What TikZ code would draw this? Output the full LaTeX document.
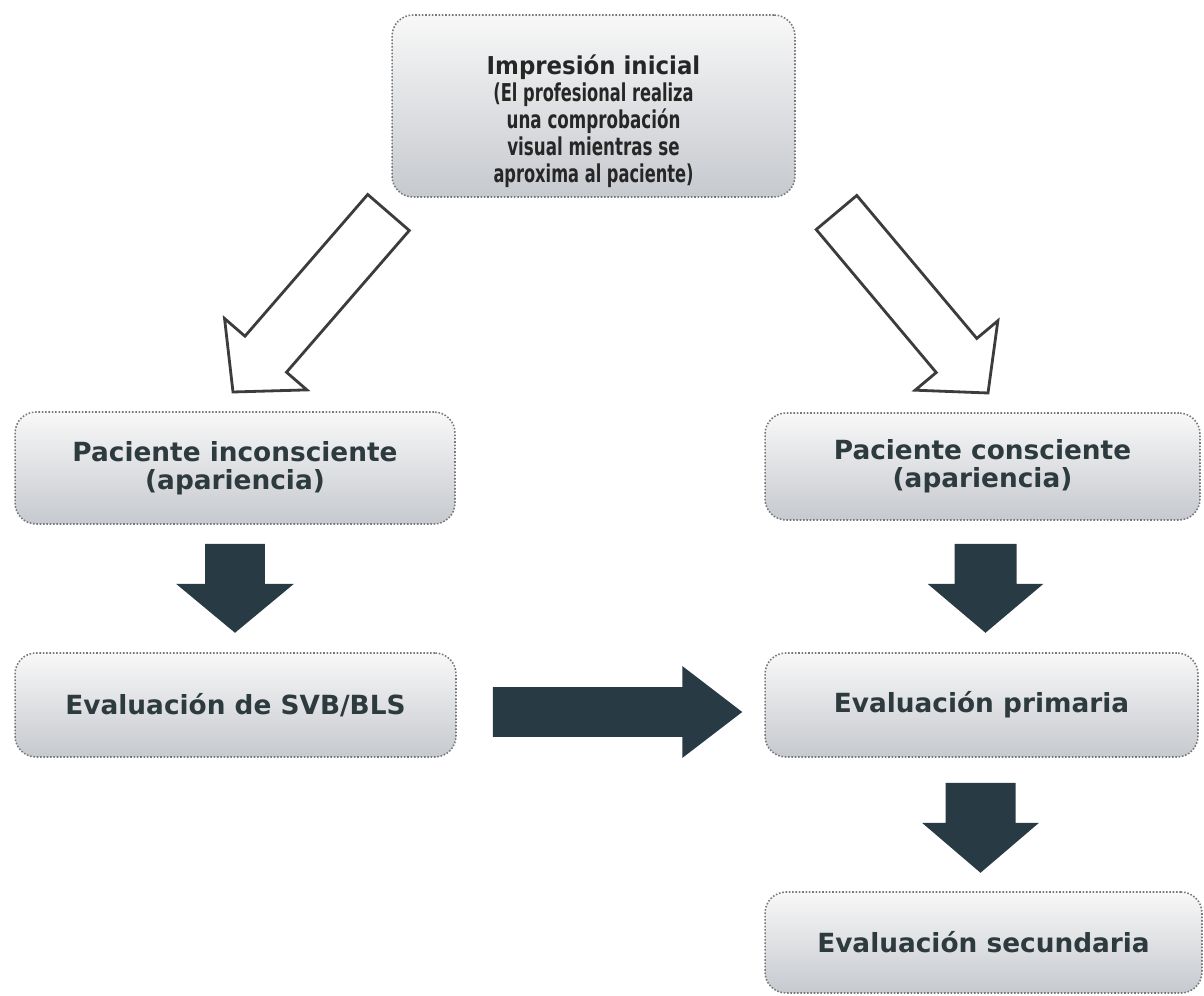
\documentclass[tikz,border=0pt]{standalone}
\usepackage{fontspec}
\usepackage{graphicx}
\setmainfont{DejaVu Sans}
\usetikzlibrary{calc}

\definecolor{boxtop}{RGB}{248,248,248}
\definecolor{boxbot}{RGB}{198,201,206}
\definecolor{boxline}{RGB}{120,120,124}
\definecolor{txt}{RGB}{45,58,62}
\definecolor{darkarrow}{RGB}{40,58,68}
\definecolor{outline}{RGB}{60,60,60}

% block arrow from #2 to #3: shaft half width #4, head half width #5, head length #6
\newcommand{\blockarrow}[6]{%
  \coordinate (ba-n) at ($(#3)!#6!(#2)$);
  \path[#1] ($(#2)!#4!90:(#3)$) -- ($(ba-n)!#4!90:(#3)$) -- ($(ba-n)!#5!90:(#3)$)
    -- (#3) -- ($(ba-n)!#5!-90:(#3)$) -- ($(ba-n)!#4!-90:(#3)$)
    -- ($(#2)!#4!-90:(#3)$) -- cycle;
}

\tikzset{
  stagebox/.style={rounded corners=0.42cm, top color=boxtop, bottom color=boxbot,
    draw=boxline, densely dotted, line width=0.9pt, inner sep=0pt,
    font=\fontsize{15pt}{16pt}\selectfont\bfseries, text=txt, align=center},
  hollowarrow/.style={draw=outline, fill=white, line width=1.6pt, line join=miter},
  solidarrow/.style={fill=darkarrow}
}

\begin{document}
\begin{tikzpicture}[x=0.02cm, y=-0.02cm]
\useasboundingbox (0,0) rectangle (1204,996);

% boxes
\node[stagebox, minimum width=8.06cm, minimum height=3.64cm] (top) at (593.5,106) {};
\node[text=black!85, align=center, inner sep=0pt,
      font=\fontsize{14pt}{15.4pt}\selectfont\bfseries] (toptxt) at ($(top.center)+(0,15)$)
  {\scalebox{0.93}[1]{Impresión inicial}\\
   \scalebox{0.66}[1]{(El profesional realiza}\\
   \scalebox{0.68}[1]{una comprobación}\\
   \scalebox{0.68}[1]{visual mientras se}\\
   \scalebox{0.66}[1]{aproxima al paciente)}};

\node[stagebox, minimum width=8.8cm, minimum height=2.24cm] (inc) at (235,468)
  {Paciente inconsciente\\(apariencia)};
\node[stagebox, minimum width=8.7cm, minimum height=2.14cm] (con) at (982.5,466.5)
  {Paciente consciente\\(apariencia)};
\node[stagebox, minimum width=8.82cm, minimum height=2.08cm] (svb) at (235.5,705)
  {Evaluación de SVB/BLS};
\node[stagebox, minimum width=8.66cm, minimum height=2.08cm] (pri) at (981.5,705)
  {Evaluación primaria};
\node[stagebox, minimum width=8.74cm, minimum height=2.02cm] (sec) at (983.5,942.5)
  {Evaluación secundaria};

% arrow anchor points
\coordinate (l-s) at (388.5,212.5);
\coordinate (l-e) at (233,392);
\coordinate (r-s) at (836.5,212.5);
\coordinate (r-e) at (988,393);
\coordinate (d1-s) at ($(inc.south)+(0,19)$);
\coordinate (d1-e) at ($(inc.south)+(0,108)$);
\coordinate (d2-s) at ($(con.south)+(3,23)$);
\coordinate (d2-e) at ($(con.south)+(3,112)$);
\coordinate (d3-s) at ($(pri.south)+(-1,25)$);
\coordinate (d3-e) at ($(pri.south)+(-1,115)$);
\coordinate (h-s) at ($(svb.east)+(36,7)$);
\coordinate (h-e) at ($(pri.west)+(-22,7)$);

% outlined diagonal arrows
\blockarrow{hollowarrow}{l-s}{l-e}{0.55cm}{1.09cm}{1.0cm}
\blockarrow{hollowarrow}{r-s}{r-e}{0.53cm}{1.08cm}{0.98cm}

% solid arrows
\blockarrow{solidarrow}{d1-s}{d1-e}{0.6cm}{1.18cm}{0.98cm}
\blockarrow{solidarrow}{d2-s}{d2-e}{0.62cm}{1.16cm}{0.98cm}
\blockarrow{solidarrow}{d3-s}{d3-e}{0.7cm}{1.17cm}{1.0cm}
\blockarrow{solidarrow}{h-s}{h-e}{0.5cm}{0.92cm}{1.2cm}
\end{tikzpicture}
\end{document}
